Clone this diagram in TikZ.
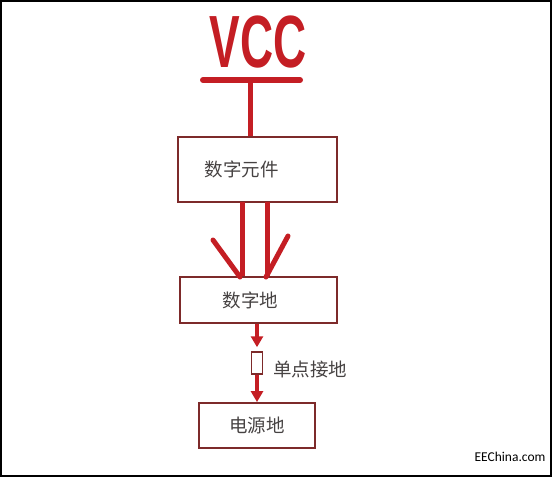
\documentclass[tikz,border=0pt]{standalone}
\usepackage{fontspec}
\setmainfont{Noto Sans CJK SC}
\newfontfamily\vccfont{Liberation Sans}
\newfontfamily\markfont{Carlito}
\usepackage{xcolor}
\usetikzlibrary{arrows.meta}
\definecolor{penred}{RGB}{196,30,36}
\definecolor{boxline}{RGB}{125,42,42}
\definecolor{inkgray}{RGB}{70,66,66}

\begin{document}
\begin{tikzpicture}[x=1pt,y=-1pt,
    block/.style={draw=boxline,line width=1.8pt,inner sep=0pt},
    blocktext/.style={text=inkgray,font=\fontsize{18.5}{18.5}\selectfont},
    wire/.style={draw=penred,line width=5pt},
    redarrow/.style={draw=penred,line width=4pt,-{Triangle[length=11pt,width=12pt]}}]
    \useasboundingbox (0,0) rectangle (552,477);
    \draw[line width=1.6pt] (1,1) rectangle (551,476);
    % supply
    \node[text=penred,inner sep=0pt] (vcc) at (258,42)
        {\scalebox{0.62}[1]{\vccfont\bfseries\fontsize{74}{74}\selectfont VCC}};
    \coordinate (barL) at (203,80);
    \coordinate (barR) at (300,80);
    \coordinate (tap) at (250,80);
    % blocks
    \node[block,minimum width=159pt,minimum height=65pt,
        label={[blocktext,xshift=-16pt]center:数字元件}] (elem) at (257.5,169.5) {};
    \node[block,minimum width=157pt,minimum height=46pt,
        label={[blocktext,xshift=-8pt]center:数字地}] (dgnd) at (258.5,300) {};
    \node[block,minimum width=116pt,minimum height=45pt,
        label={[blocktext]center:电源地}] (pgnd) at (257,425.5) {};
    \node[draw=boxline,line width=1.5pt,fill=white,minimum width=11pt,
        minimum height=22pt,inner sep=0pt] (res) at (257,363) {};
    \node[blocktext,anchor=west,inner sep=0pt] (single) at (273,369) {单点接地};
    \node[font=\markfont\fontsize{13.5}{13.5}\selectfont,inner sep=0pt] (site) at (510,457) {EEChina.com};
    % hand drawn connections
    \draw[wire,line width=6pt,line cap=round] (barL) -- (barR);
    \draw[wire] (tap) -- (tap |- elem.north);
    \coordinate (outL) at (242,202);
    \coordinate (outR) at (267,202);
    \coordinate (barbL) at (213,240);
    \coordinate (barbR) at (288,236);
    \coordinate (tipL) at (240,277);
    \coordinate (tipR) at (266,277);
    \draw[wire] (outL) -- (outL |- dgnd.north);
    \draw[wire] (outR) -- (outR |- dgnd.north);
    \draw[wire,line cap=round] (barbL) -- (tipL);
    \draw[wire,line cap=round] (barbR) -- (tipR);
    \draw[redarrow,shorten >=4pt] (res |- dgnd.south) -- (res.north);
    \draw[redarrow] (res.south) -- (res |- pgnd.north);
\end{tikzpicture}
\end{document}
